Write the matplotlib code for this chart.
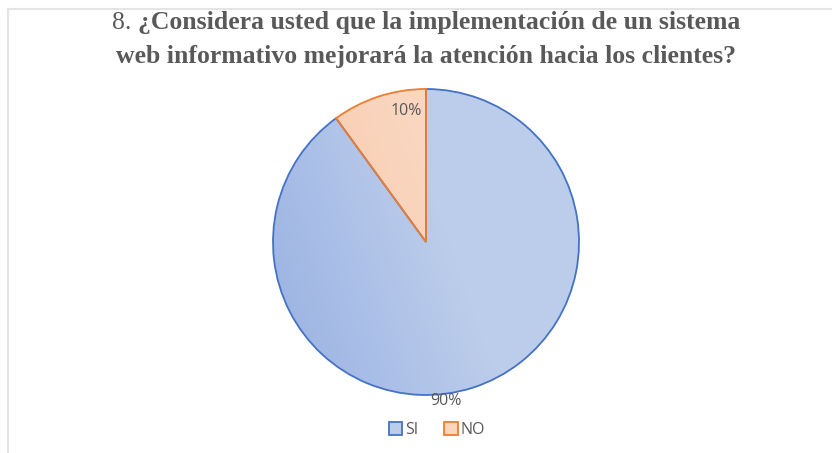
"""Pie chart: survey question 8, SI vs NO."""

import numpy as np
import matplotlib.pyplot as plt
from matplotlib.colors import LinearSegmentedColormap
from matplotlib.patches import Rectangle

categories = ["SI", "NO"]
values = [90, 10]
labels = ["90%", "10%"]

title_num = "8. "
title_line1 = "¿Considera usted que la implementación de un sistema"
title_line2 = "web informativo mejorará la atención hacia los clientes?"

W, H = 832, 453
fig = plt.figure(figsize=(W / 100, H / 100), dpi=100)
ax = fig.add_axes([0, 0, 1, 1])
ax.set_xlim(0, W)
ax.set_ylim(0, H)
ax.set_aspect("equal")
ax.axis("off")

# light gray chart border (top and left only visible in the reference)
ax.plot([7.5, 7.5, W + 5], [-5, H - 8.5, H - 8.5], color="#e4e4e4", lw=1.5,
        solid_capstyle="butt")

center = (426, H - 242)
radius = 153
edge_colors = ["#4472C4", "#ED7D31"]
grad = [("#98b1e3", "#bccdeb"), ("#f5c2a0", "#fad6bf")]

wedges, _ = ax.pie(values, startangle=90, counterclock=False, center=center,
                   radius=radius, colors=["none", "none"],
                   wedgeprops=dict(linewidth=1.3))
for w, ec, (c0, c1) in zip(wedges, edge_colors, grad):
    w.set_edgecolor(ec)
    w.set_zorder(3)
    # gradient, darker toward the left / lower left
    yy, xx = np.mgrid[0:1:200j, 0:1:200j]
    t = np.clip((xx * 1.0 + yy * 0.35) / 0.75, 0, 1)
    cmap = LinearSegmentedColormap.from_list("g", [c0, c1])
    im = ax.imshow(t, cmap=cmap, origin="lower", zorder=2,
                   extent=(center[0] - radius, center[0] + radius,
                           center[1] - radius, center[1] + radius))
    im.set_clip_path(w)

ax.set_xlim(0, W)
ax.set_ylim(0, H)

# percentage labels, placed as in the reference (near the outer edge)
label_pos = {"90%": (446, H - 401), "10%": (406, H - 111)}
for lab in labels:
    ax.text(*label_pos[lab], lab, ha="center", va="center", fontsize=11.5,
            color="#595959", family="Open Sans", zorder=5)

# title: number in regular weight, question in bold
tstyle = dict(family="Liberation Serif", fontsize=18.5, color="#595959", va="center")
fig.canvas.draw()
r = fig.canvas.get_renderer()
t_num = fig.text(0, 1 - 23 / H, title_num, **tstyle)
t_l1 = fig.text(0, 1 - 23 / H, title_line1, fontweight="bold", **tstyle)
w_num = t_num.get_window_extent(r).width
w_l1 = t_l1.get_window_extent(r).width
x0 = 426 - (w_num + w_l1) / 2
t_num.set_x(x0 / W)
t_l1.set_x((x0 + w_num) / W)
fig.text(426 / W, 1 - 56 / H, title_line2, ha="center", fontweight="bold", **tstyle)

handles = [Rectangle((0, 0), 1, 1, facecolor=g[1], edgecolor=ec, lw=1.3)
           for g, ec in zip(grad, edge_colors)]
leg = fig.legend(handles, categories, loc="center", bbox_to_anchor=(437 / W, 1 - 430 / H),
                 ncol=2, frameon=False, handlelength=0.85, handleheight=0.85,
                 handletextpad=0.2, columnspacing=1.6,
                 prop={"family": "Open Sans", "size": 11.5})
for t in leg.get_texts():
    t.set_color("#595959")

fig.savefig("out.png", dpi=100)
